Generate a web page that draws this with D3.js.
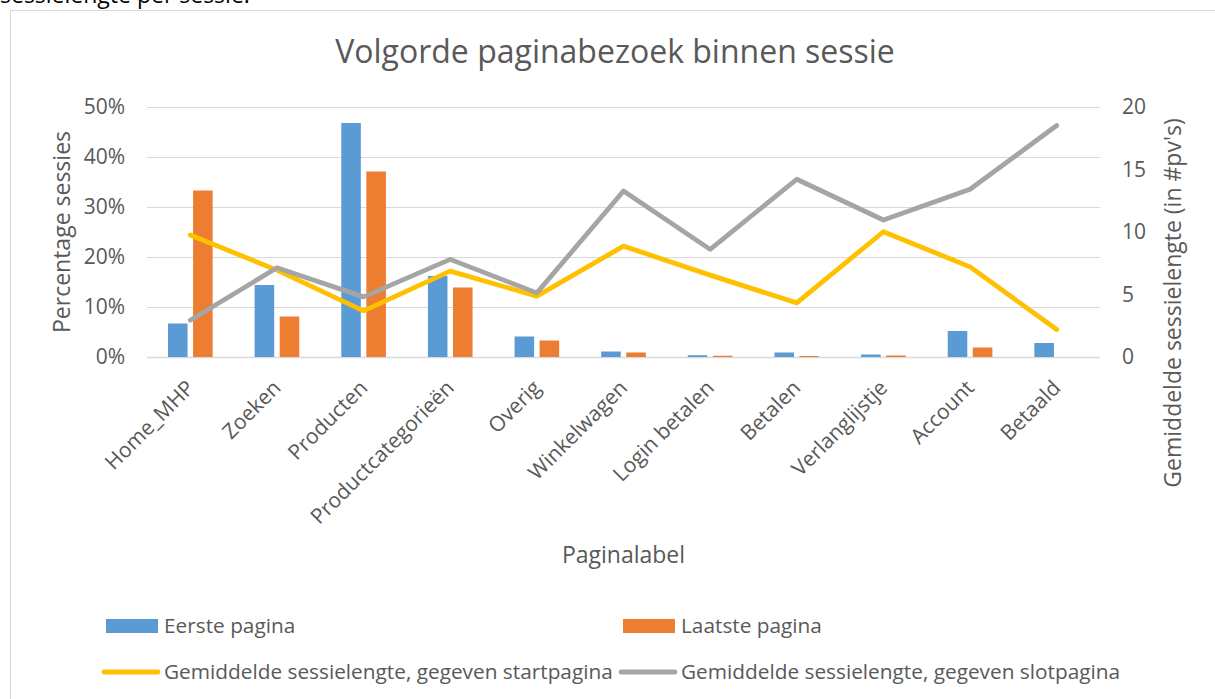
<!DOCTYPE html>
<html>
<head>
<meta charset="utf-8">
<script src="https://cdn.jsdelivr.net/npm/d3@7"></script>
<style>
    body { margin: 0; background: #fff; }
    svg { display: block; font-family: "Open Sans", sans-serif; }
</style>
</head>
<body>
<div id="chart"></div>
<script>
// chart data
const categories = ["Home_MHP", "Zoeken", "Producten", "Productcategorieën", "Overig", "Winkelwagen",
    "Login betalen", "Betalen", "Verlanglijstje", "Account", "Betaald"];
const eerstePagina = [0.067, 0.144, 0.468, 0.162, 0.041, 0.011, 0.0035, 0.009, 0.005, 0.052, 0.028];
const laatstePagina = [0.333, 0.081, 0.371, 0.139, 0.033, 0.009, 0.0025, 0.002, 0.003, 0.019, 0.0];
const lengteStart = [9.76, 6.95, 3.69, 6.87, 4.87, 8.87, 6.55, 4.33, 10.02, 7.21, 2.2];
const lengteSlot = [2.94, 7.14, 4.81, 7.81, 5.13, 13.28, 8.61, 14.22, 10.96, 13.42, 18.52];
const leftTicks = [0, 0.1, 0.2, 0.3, 0.4, 0.5];
const rightTicks = [0, 5, 10, 15, 20];

const barSeries = [
    { name: "Eerste pagina", values: eerstePagina, color: "#5b9bd5" },
    { name: "Laatste pagina", values: laatstePagina, color: "#ed7d31" }
];
const lineSeries = [
    { name: "Gemiddelde sessielengte, gegeven startpagina", values: lengteStart, color: "#ffc000" },
    { name: "Gemiddelde sessielengte, gegeven slotpagina", values: lengteSlot, color: "#a5a5a5" }
];

const width = 1215;
const height = 699;
const textColor = "#595959";
const gridColor = "#d9d9d9";

// plot area
const plot = { left: 147, right: 1100, top: 107, bottom: 357 };

const svg = d3.select("#chart").append("svg")
    .attr("width", width)
    .attr("height", height);

// leftover paragraph text above the chart
svg.append("text")
    .attr("x", 0)
    .attr("y", 3)
    .style("font-size", "23px")
    .style("fill", "#000")
    .text("sessielengte per sessie.");

// chart border
svg.append("rect")
    .attr("x", 10.5)
    .attr("y", 10.5)
    .attr("width", 1206)
    .attr("height", 720)
    .attr("fill", "none")
    .attr("stroke", gridColor)
    .attr("stroke-width", 1);

// title
svg.append("text")
    .attr("x", 615)
    .attr("y", 63)
    .attr("text-anchor", "middle")
    .style("font-size", "32px")
    .style("fill", textColor)
    .text("Volgorde paginabezoek binnen sessie");

// scales
const x0 = d3.scaleBand().domain(categories).range([plot.left, plot.right]);
const x1 = d3.scaleBand()
    .domain(barSeries.map(s => s.name))
    .range([21, x0.bandwidth() - 21])
    .paddingInner(0.22);
const yLeft = d3.scaleLinear().domain([0, 0.5]).range([plot.bottom, plot.top]);
const yRight = d3.scaleLinear().domain([0, 20]).range([plot.bottom, plot.top]);

// gridlines
svg.append("g")
    .selectAll("line")
    .data(leftTicks)
    .enter().append("line")
    .attr("x1", plot.left)
    .attr("x2", plot.right)
    .attr("y1", d => Math.round(yLeft(d)) + 0.5)
    .attr("y2", d => Math.round(yLeft(d)) + 0.5)
    .attr("stroke", gridColor)
    .attr("stroke-width", d => d === 0 ? 1.5 : 1);

// left axis labels
const leftAxis = svg.append("g")
    .attr("transform", `translate(${plot.left - 22},0)`)
    .call(d3.axisLeft(yLeft).tickValues(leftTicks).tickFormat(d3.format(".0%")).tickSize(0).tickPadding(0));
leftAxis.select(".domain").remove();
leftAxis.selectAll("text")
    .style("font-size", "21px")
    .style("font-family", "'Open Sans', sans-serif")
    .style("fill", textColor);

// right axis labels
const rightAxis = svg.append("g")
    .attr("transform", `translate(${plot.right + 22},0)`)
    .call(d3.axisRight(yRight).tickValues(rightTicks).tickSize(0).tickPadding(0));
rightAxis.select(".domain").remove();
rightAxis.selectAll("text")
    .style("font-size", "21px")
    .style("font-family", "'Open Sans', sans-serif")
    .style("fill", textColor);

// category labels, rotated
svg.append("g")
    .selectAll("text")
    .data(categories)
    .enter().append("text")
    .attr("transform", d => `translate(${x0(d) + x0.bandwidth() / 2},384) rotate(-45)`)
    .attr("text-anchor", "end")
    .attr("dy", "0.35em")
    .style("font-size", "21px")
    .style("fill", textColor)
    .text(d => d);

// axis titles
svg.append("text")
    .attr("transform", `translate(70,${(plot.top + plot.bottom) / 2}) rotate(-90)`)
    .attr("text-anchor", "middle")
    .style("font-size", "23px")
    .style("fill", textColor)
    .text("Percentage sessies");

svg.append("text")
    .attr("transform", `translate(1181,303) rotate(-90)`)
    .attr("text-anchor", "middle")
    .style("font-size", "23px")
    .style("fill", textColor)
    .text("Gemiddelde sessielengte (in #pv's)");

svg.append("text")
    .attr("x", (plot.left + plot.right) / 2)
    .attr("y", 563)
    .attr("text-anchor", "middle")
    .style("font-size", "23px")
    .style("fill", textColor)
    .text("Paginalabel");

// bars
barSeries.forEach(s => {
    svg.append("g")
        .selectAll("rect")
        .data(categories)
        .enter().append("rect")
        .attr("x", d => x0(d) + x1(s.name))
        .attr("width", x1.bandwidth())
        .attr("y", (d, i) => yLeft(s.values[i]))
        .attr("height", (d, i) => plot.bottom - yLeft(s.values[i]))
        .attr("fill", s.color);
});

// lines
const line = d3.line()
    .x((d, i) => x0(categories[i]) + x0.bandwidth() / 2)
    .y(d => yRight(d));

lineSeries.forEach(s => {
    svg.append("path")
        .datum(s.values)
        .attr("d", line)
        .attr("fill", "none")
        .attr("stroke", s.color)
        .attr("stroke-width", 4.8)
        .attr("stroke-linejoin", "round")
        .attr("stroke-linecap", "round");
});

// legend
const legendCols = [106, 623];
const legendRows = [626, 672];

barSeries.forEach((s, i) => {
    const g = svg.append("g").attr("transform", `translate(${legendCols[i]},${legendRows[0]})`);
    g.append("rect")
        .attr("x", 0)
        .attr("y", -7)
        .attr("width", 52)
        .attr("height", 14)
        .attr("fill", s.color);
    g.append("text")
        .attr("x", 58)
        .attr("dy", "0.35em")
        .style("font-size", "20.8px")
        .style("fill", textColor)
        .text(s.name);
});

lineSeries.forEach((s, i) => {
    const g = svg.append("g").attr("transform", `translate(${legendCols[i]},${legendRows[1]})`);
    g.append("line")
        .attr("x1", -2)
        .attr("x2", 52)
        .attr("stroke", s.color)
        .attr("stroke-width", 4.8)
        .attr("stroke-linecap", "round");
    g.append("text")
        .attr("x", 58)
        .attr("dy", "0.35em")
        .style("font-size", "20.8px")
        .style("fill", textColor)
        .text(s.name);
});
</script>
</body>
</html>
